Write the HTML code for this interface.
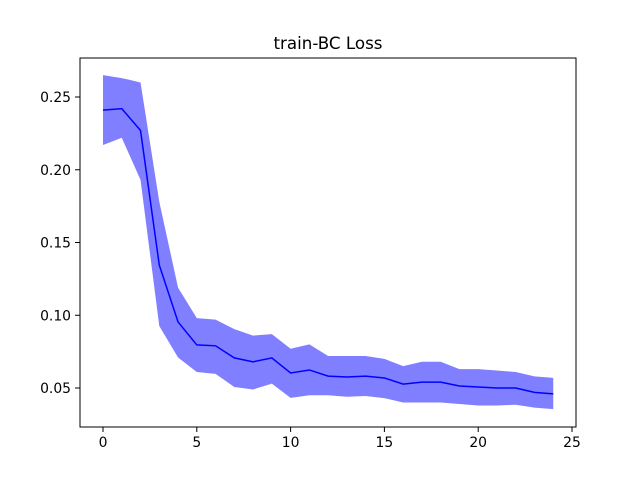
<!DOCTYPE html>
<html><head><meta charset="utf-8"><style>
html,body{margin:0;padding:0;background:#fff;}
svg{display:block;font-family:"DejaVu Sans","Liberation Sans",sans-serif;}
</style></head><body>
<svg id="chart" width="640" height="480" viewBox="0 0 640 480">
<rect width="640" height="480" fill="#fff"/>
<text x="328" y="49" text-anchor="middle" font-size="16.7">train-BC Loss</text>
<g id="plot"></g>
<rect x="80" y="58" width="496" height="369" fill="none" stroke="#000" stroke-width="1"/>
</svg>
<script>
const epochs = [0,1,2,3,4,5,6,7,8,9,10,11,12,13,14,15,16,17,18,19,20,21,22,23,24];
const meanLoss = [0.241,0.242,0.227,0.1345,0.0954,0.0796,0.079,0.0707,0.068,0.0707,0.0603,0.0624,0.0582,0.0576,0.0582,0.0569,0.0527,0.054,0.054,0.0514,0.0507,0.05,0.05,0.047,0.046];
const upperLoss = [0.265,0.263,0.26,0.178,0.119,0.098,0.097,0.0905,0.086,0.087,0.077,0.080,0.072,0.072,0.072,0.070,0.065,0.068,0.068,0.063,0.063,0.062,0.061,0.058,0.057];
const lowerLoss = [0.217,0.222,0.193,0.0926,0.071,0.061,0.0597,0.0507,0.049,0.053,0.0432,0.045,0.045,0.044,0.0445,0.043,0.040,0.040,0.040,0.039,0.038,0.038,0.0385,0.0365,0.0355];
const xTicks = [0,5,10,15,20,25];
const yTicks = [0.05,0.10,0.15,0.20,0.25];
const yTickLabels = ["0.05","0.10","0.15","0.20","0.25"];

const X = v => 103 + v * (572 - 103) / 25;
const Y = v => 388 - (v - 0.05) * (388 - 97) / 0.20;
const NS = "http://www.w3.org/2000/svg";
const g = document.getElementById('plot');
function mk(tag, attrs){const e=document.createElementNS(NS,tag);for(const k in attrs)e.setAttribute(k,attrs[k]);g.appendChild(e);return e;}

let d = epochs.map((e,i)=>(i?'L':'M')+X(e)+','+Y(upperLoss[i])).join(' ');
for(let i=epochs.length-1;i>=0;i--) d+=' L'+X(epochs[i])+','+Y(lowerLoss[i]);
const band = mk('path',{d:d+' Z',fill:'#0000ff','fill-opacity':'0.5',stroke:'none'});



const line = mk('polyline',{points:epochs.map((e,i)=>X(e)+','+Y(meanLoss[i])).join(' '),fill:'none',stroke:'#0000ff','stroke-width':'1.5'});



xTicks.forEach(t=>{
  const tk = mk('line',{x1:X(t),x2:X(t),y1:427,y2:432,stroke:'#000'});
  
  
  const tx = mk('text',{x:X(t),y:447,'text-anchor':'middle','font-size':'13.9'});
  tx.textContent = t;
  
  
});
yTicks.forEach((t,i)=>{
  const tk = mk('line',{x1:75,x2:80,y1:Y(t),y2:Y(t),stroke:'#000'});
  
  
  const tx = mk('text',{x:71,y:Y(t)+5,'text-anchor':'end','font-size':'13.9'});
  tx.textContent = yTickLabels[i];
  
  
});
</script>
</body></html>
